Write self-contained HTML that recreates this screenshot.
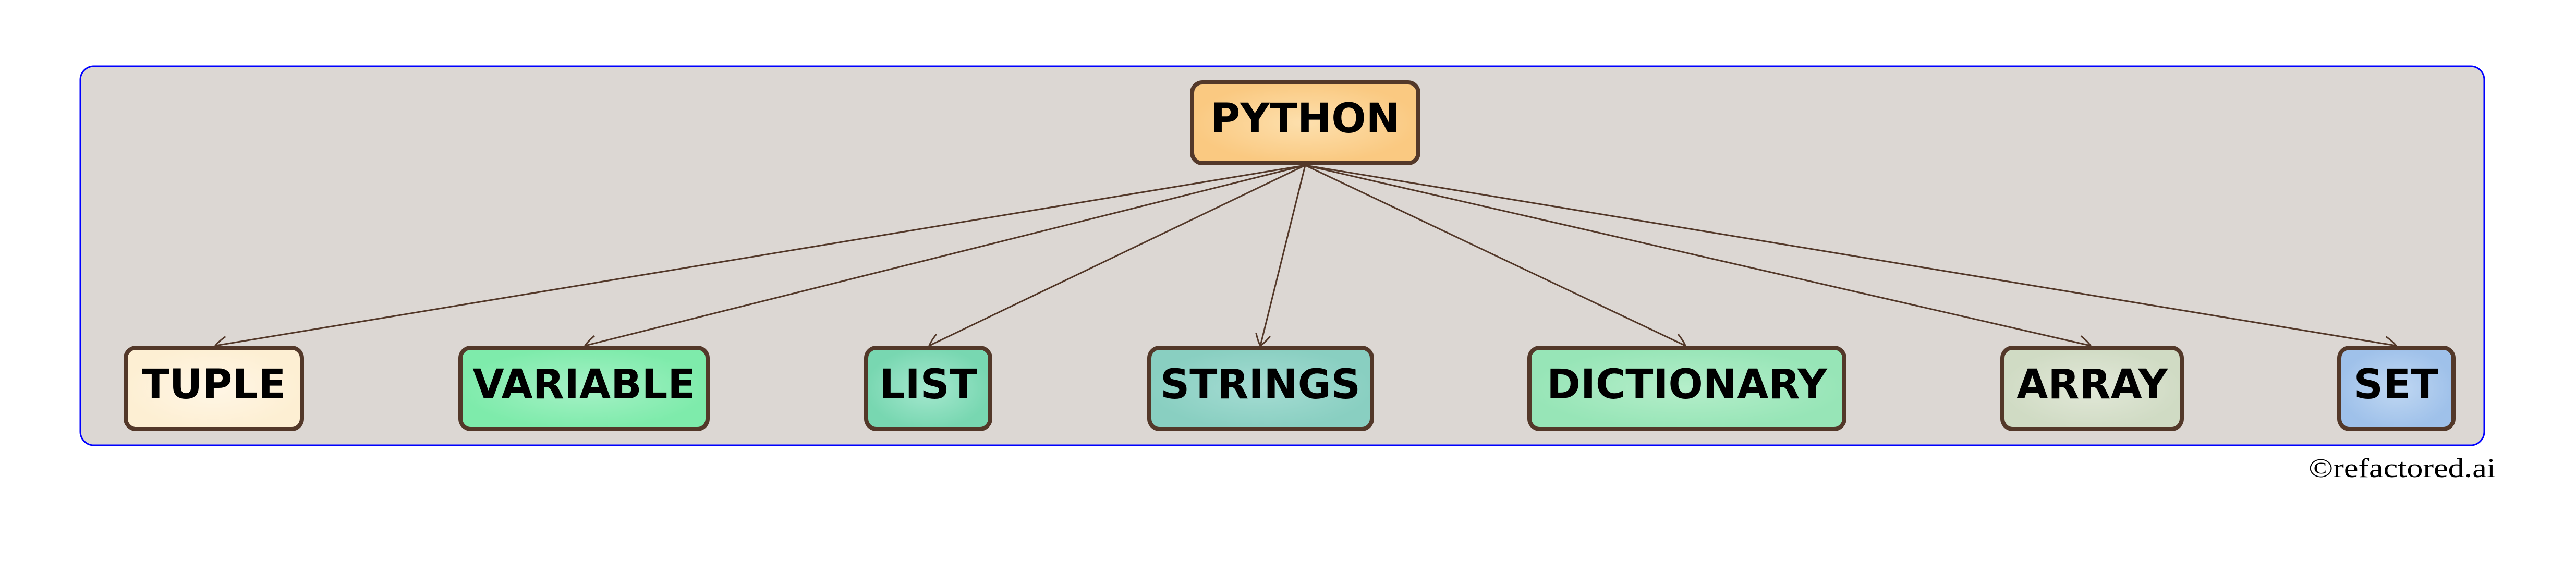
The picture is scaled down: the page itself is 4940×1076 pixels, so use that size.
<!DOCTYPE html>
<html><head><meta charset="utf-8"><style>
html,body{margin:0;padding:0;background:#fff;}
svg{display:block;}
</style></head><body>
<svg width="4940" height="1076" viewBox="0 0 4940 1076" xmlns="http://www.w3.org/2000/svg">
<defs>
<marker id="ar" markerUnits="userSpaceOnUse" markerWidth="40" markerHeight="40" refX="0" refY="0" viewBox="-30 -20 40 40" orient="auto" overflow="visible">
<path d="M-22,-14 Q-6,-6 0,0 Q-6,6 -22,14" fill="none" stroke="#533829" stroke-width="3"/>
</marker>
<radialGradient id="g0"><stop offset="0" stop-color="#fde0ae"/><stop offset="1" stop-color="#fac981"/></radialGradient>
<radialGradient id="g1"><stop offset="0" stop-color="#fff6e6"/><stop offset="1" stop-color="#fdefd3"/></radialGradient>
<radialGradient id="g2"><stop offset="0" stop-color="#a6f1c6"/><stop offset="1" stop-color="#7eebab"/></radialGradient>
<radialGradient id="g3"><stop offset="0" stop-color="#a6e8cf"/><stop offset="1" stop-color="#78d7b1"/></radialGradient>
<radialGradient id="g4"><stop offset="0" stop-color="#a5dcd3"/><stop offset="1" stop-color="#89cfc1"/></radialGradient>
<radialGradient id="g5"><stop offset="0" stop-color="#b5eeca"/><stop offset="1" stop-color="#97e5b7"/></radialGradient>
<radialGradient id="g6"><stop offset="0" stop-color="#e2e8d8"/><stop offset="1" stop-color="#d0dbc4"/></radialGradient>
<radialGradient id="g7"><stop offset="0" stop-color="#c1d8f2"/><stop offset="1" stop-color="#9fc1ea"/></radialGradient>
</defs>
<rect x="154" y="127" width="4610" height="727" rx="26" fill="#dcd7d3" stroke="#0000ff" stroke-width="3"/>
<g stroke="#533829" stroke-width="3" fill="none" marker-end="url(#ar)">
<line x1="2503" y1="317" x2="413" y2="663"/>
<line x1="2503" y1="317" x2="1122" y2="663"/>
<line x1="2503" y1="317" x2="1782" y2="663"/>
<line x1="2503" y1="317" x2="2417" y2="663"/>
<line x1="2503" y1="317" x2="3232" y2="663"/>
<line x1="2503" y1="317" x2="4009" y2="663"/>
<line x1="2503" y1="317" x2="4595" y2="663"/>
</g>
<g stroke="#533829" stroke-width="8">
<rect x="2286" y="158" width="434" height="155" rx="20" fill="url(#g0)"/>
<rect x="241" y="667" width="338" height="156" rx="20" fill="url(#g1)"/>
<rect x="883" y="667" width="474" height="156" rx="20" fill="url(#g2)"/>
<rect x="1661" y="667" width="238" height="156" rx="20" fill="url(#g3)"/>
<rect x="2204" y="667" width="427" height="156" rx="20" fill="url(#g4)"/>
<rect x="2933" y="667" width="604" height="156" rx="20" fill="url(#g5)"/>
<rect x="3840" y="667" width="344" height="156" rx="20" fill="url(#g6)"/>
<rect x="4486" y="667" width="219" height="156" rx="20" fill="url(#g7)"/>
</g>
<g font-family="'DejaVu Sans', 'Liberation Sans', sans-serif" font-weight="bold" font-size="78" text-anchor="middle" fill="#000">
<text x="2503" y="254">PYTHON</text>
<text x="410" y="764">TUPLE</text>
<text x="1120" y="764">VARIABLE</text>
<text x="1780" y="764">LIST</text>
<text x="2417" y="764">STRINGS</text>
<text x="3235" y="764">DICTIONARY</text>
<text x="4012" y="764">ARRAY</text>
<text x="4595" y="764">SET</text>
</g>
<text x="4427" y="915" font-family="'Liberation Serif', serif" font-size="52" textLength="359" lengthAdjust="spacingAndGlyphs" fill="#000">©refactored.ai</text>
</svg>
</body></html>
